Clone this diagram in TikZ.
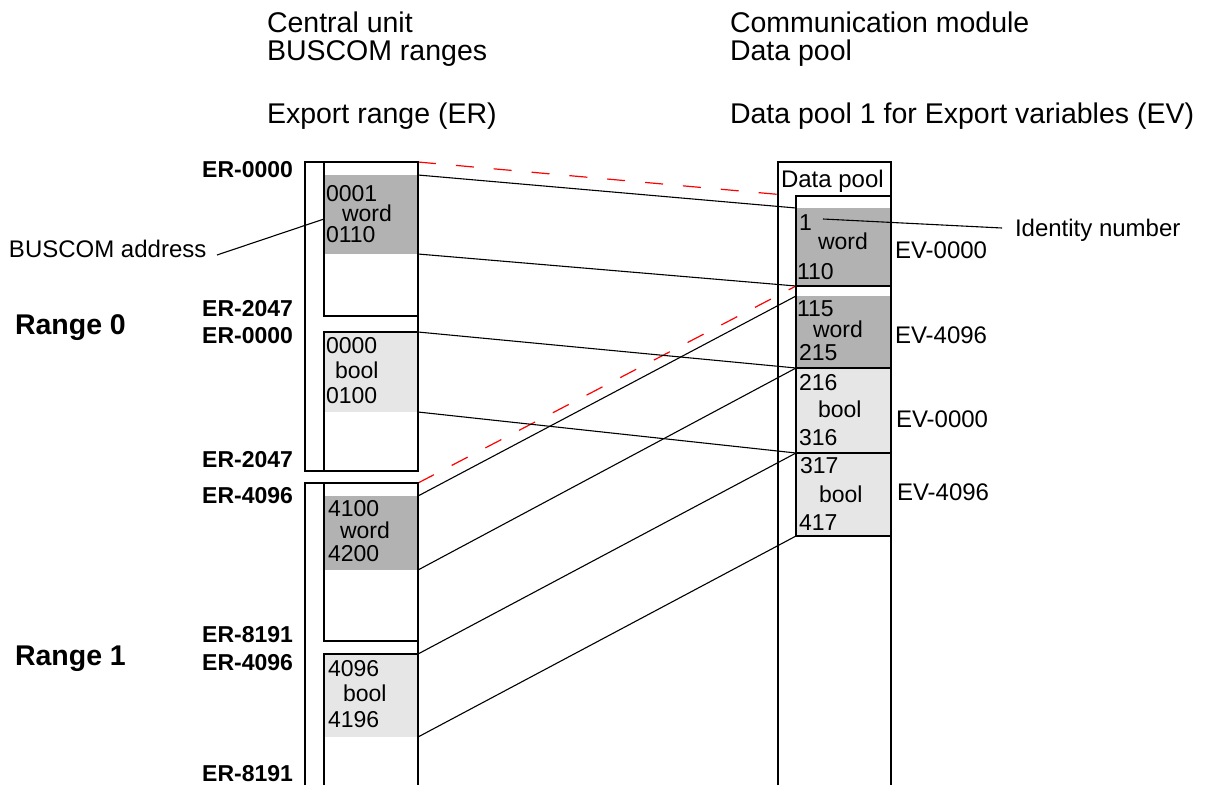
\documentclass[tikz,border=0pt]{standalone}
\usepackage{fontspec}
\setmainfont{Liberation Sans}
\definecolor{dkgray}{RGB}{178,178,178}
\definecolor{ltgray}{RGB}{230,230,230}
\begin{document}
\begin{tikzpicture}[x=1pt,y=-1pt,
  txt/.style={inner sep=0pt, outer sep=0pt, anchor=base west, font=\fontsize{24}{24}\selectfont},
  ctxt/.style={txt, font=\fontsize{23}{23}\selectfont},
  head/.style={txt, font=\fontsize{28.5}{28.5}\selectfont},
  erl/.style={inner sep=0pt, outer sep=0pt, anchor=base east, font=\fontsize{23}{23}\selectfont\bfseries},
  rng/.style={txt, font=\fontsize{28.5}{28.5}\selectfont\bfseries},
  cell/.style={inner sep=0pt, outer sep=0pt, anchor=north west, draw=none, minimum width=94pt},
  rcell/.style={cell, minimum width=95pt},
  dk/.style={fill=dkgray},
  lt/.style={fill=ltgray},
  frame/.style={line width=2pt},
  conn/.style={line width=1.1pt},
  reddash/.style={red, line width=1.2pt, dash pattern=on 18pt off 20pt}]
\useasboundingbox (0,0) rectangle (1207,785);

% headers
\node[head] (h1) at (267,32) {Central unit};
\node[head] (h2) at (267,60) {BUSCOM ranges};
\node[head] (h3) at (267,123) {Export range (ER)};
\node[head] (h4) at (730,32) {Communication module};
\node[head] (h5) at (730,60) {Data pool};
\node[head] (h6) at (730,123) {Data pool 1 for Export variables (EV)};

% filled cells, left
\node[cell, dk, minimum height=79pt] (L0w) at (324,175) {};
\node[cell, lt, minimum height=80pt] (L0b) at (324,332) {};
\node[cell, dk, minimum height=74pt] (L1w) at (324,496) {};
\node[cell, lt, minimum height=83pt] (L1b) at (324,654) {};
% filled cells, right
\node[rcell, dk, minimum height=78pt] (R1) at (796,208) {};
\node[rcell, dk, minimum height=72pt] (R2) at (796,296) {};
\node[rcell, lt, minimum height=85pt] (R3) at (796,368) {};
\node[rcell, lt, minimum height=83pt] (R4) at (796,453) {};

% named points
\coordinate (r0ne) at (418,162);
\coordinate (r1ne) at (418,483);
\coordinate (dpin) at (796,196);
\coordinate (busend) at (217,255);
\coordinate (busbox) at (324,219);
\coordinate (idstart) at (823,219);
\coordinate (idend) at (1002,228);

% red dashed
\draw[reddash] (r0ne) -- (dpin);
\draw[reddash] (r1ne) -- (R1.south west);

% connectors
\draw[conn] (L0w.north east) -- (R1.north west);
\draw[conn] (L0w.south east) -- (R1.south west);
\draw[conn] (L0b.north east) -- (R3.north west);
\draw[conn] (L0b.south east) -- (R3.south west);
\draw[conn] (L1w.north east) -- (R2.north west);
\draw[conn] (L1w.south east) -- (R2.south west);
\draw[conn] (L1b.north east) -- (R4.north west);
\draw[conn] (L1b.south east) -- (R4.south west);
\draw[conn] (busend) -- (busbox);
\draw[conn] (idstart) -- (idend);

% frames range 0
\draw[frame] (305,162) rectangle (418,471);
\draw[frame] (324,162) -- (324,316) -- (418,316);
\draw[frame] (324,471) -- (324,332) -- (418,332);
% frames range 1
\draw[frame] (305,785) -- (305,483) -- (418,483) -- (418,785);
\draw[frame] (324,483) -- (324,641) -- (418,641);
\draw[frame] (324,785) -- (324,654) -- (418,654);
% data pool frame
\draw[frame] (778,785) -- (778,162) -- (891,162) -- (891,785);
\draw[frame] (891,196) -- (796,196) -- (796,536) -- (891,536);
\draw[frame] (796,286) -- (891,286);
\draw[frame] (796,368) -- (891,368);
\draw[frame] (796,453) -- (891,453);

% ER labels
\node[erl] (e1) at (293,177) {ER-0000};
\node[erl] (e2) at (293,316) {ER-2047};
\node[erl] (e3) at (293,343) {ER-0000};
\node[erl] (e4) at (293,467) {ER-2047};
\node[erl] (e5) at (293,503) {ER-4096};
\node[erl] (e6) at (293,642) {ER-8191};
\node[erl] (e7) at (293,670) {ER-4096};
\node[erl] (e8) at (293,781) {ER-8191};

\node[rng] (rg0) at (15,334) {Range 0};
\node[rng] (rg1) at (15,665) {Range 1};

\node[txt] (busl) at (9,257) {BUSCOM address};
\node[txt] (idl) at (1015,236) {Identity number};

% left cell texts
\node[ctxt] (t1) at (326,201) {0001};
\node[ctxt] (t2) at (342,221) {word};
\node[ctxt] (t3) at (326,242) {0110};
\node[ctxt] (t4) at (326,353) {0000};
\node[ctxt] (t5) at (335,378) {bool};
\node[ctxt] (t6) at (326,403) {0100};
\node[ctxt] (t7) at (328,516) {4100};
\node[ctxt] (t8) at (340,538) {word};
\node[ctxt] (t9) at (328,561) {4200};
\node[ctxt] (t10) at (328,676) {4096};
\node[ctxt] (t11) at (343,701) {bool};
\node[ctxt] (t12) at (328,727) {4196};

% right cell texts
\node[txt] (d0) at (781,187) {Data pool};
\node[ctxt] (d1) at (799,230) {1};
\node[ctxt] (d2) at (818,249) {word};
\node[ctxt] (d3) at (797,279) {110};
\node[ctxt] (d4) at (797,316) {115};
\node[ctxt] (d5) at (813,337) {word};
\node[ctxt] (d6) at (799,360) {215};
\node[ctxt] (d7) at (799,390) {216};
\node[ctxt] (d8) at (818,417) {bool};
\node[ctxt] (d9) at (799,445) {316};
\node[ctxt] (d10) at (800,473) {317};
\node[ctxt] (d11) at (819,502) {bool};
\node[ctxt] (d12) at (799,530) {417};

\node[txt] (v1) at (895,258) {EV-0000};
\node[txt] (v2) at (895,343) {EV-4096};
\node[txt] (v3) at (896,427) {EV-0000};
\node[txt] (v4) at (897,500) {EV-4096};
\end{tikzpicture}
\end{document}
